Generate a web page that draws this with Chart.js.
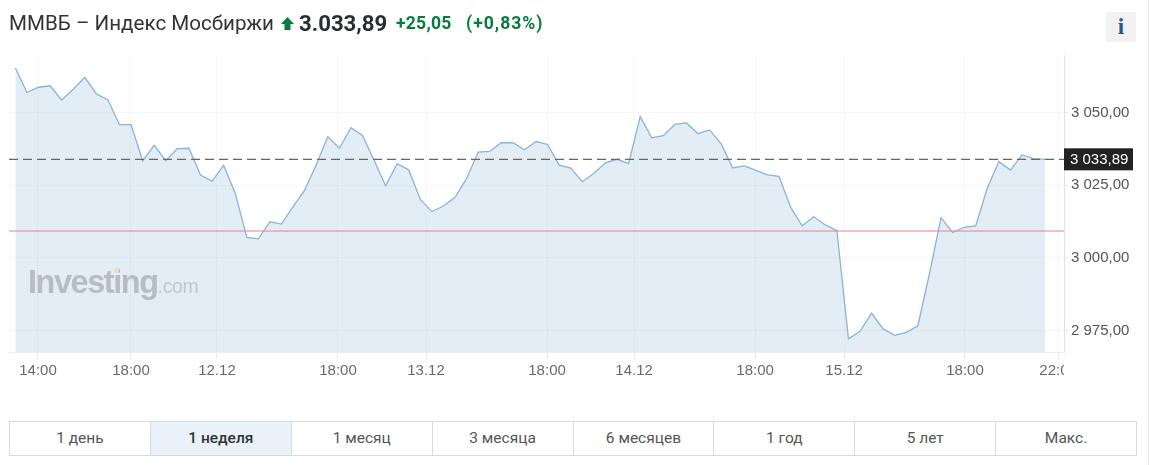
<!DOCTYPE html>
<html lang="ru">
<head>
<meta charset="utf-8">
<title>ММВБ – Индекс Мосбиржи</title>
<script src="https://cdn.jsdelivr.net/npm/chart.js@4"></script>
<style>
  html,body{margin:0;padding:0;background:#fff;overflow:hidden}
  body{width:1151px;height:465px;position:relative;font-family:Roboto,sans-serif;color:#333}
  #edge{position:absolute;left:1148px;top:0;width:1px;height:465px;background:#f0f0f0}
  #chart{position:absolute;left:0;top:0}
  #head{position:absolute;left:9px;top:10px;font-size:20.6px;line-height:26px;white-space:nowrap;display:flex;align-items:center}
  #name{color:#333;width:265px}
  #price{position:absolute;left:290px;top:0;font-weight:700;color:#2a2e33;font-size:22.2px}
  .chg{position:absolute;top:0;font-weight:700;color:#0a7b3e;font-size:17.6px;letter-spacing:.2px}
  #info{position:absolute;left:1106px;top:12px;width:30px;height:30px;background:#f1f1f1;color:#1f5a96;
    font:700 23px/30px "Liberation Serif",serif;text-align:center}
  #mark{position:absolute;left:28px;top:262px;white-space:nowrap;color:#b6bdc5;font-family:"Liberation Sans",sans-serif;line-height:40px}
  #mark b{font-size:32.4px;letter-spacing:-1.4px;font-weight:700}
  #mark span{font-size:19.4px;font-weight:400;color:#c0c7cd;letter-spacing:-.3px}
  #dot{position:absolute;left:114px;top:268px;width:5px;height:5px;border-radius:50%;background:#ecdcc0}
  #tabs{position:absolute;left:9px;top:421px;width:1128px;height:35px;box-sizing:border-box;display:flex;border:1px solid #d7dadd}
  #tabs div{flex:1;text-align:center;font-size:15.5px;line-height:33px;color:#555;border-left:1px solid #d7dadd}
  #tabs div:first-child{border-left:0}
  #tabs div.on{background:#e9f2f9;color:#333;font-weight:500}
</style>
</head>
<body>
<div id="edge"></div>
<canvas id="chart" width="1151" height="400"></canvas>
<div id="mark"><b>Investing</b><span>.com</span></div>
<div id="dot"></div>
<div id="head">
  <span id="name">ММВБ – Индекс Мосбиржи</span>
  <svg style="position:absolute;left:272px;top:7px" width="13" height="13" viewBox="0 0 13 13"><path d="M6.5 0L13 7H9.5V13H3.5V7H0Z" fill="#0a7b3e"/></svg>
  <span id="price">3.033,89</span>
  <span class="chg" style="left:387px">+25,05</span>
  <span class="chg" style="left:457px;letter-spacing:1px">(+0,83%)</span>
</div>
<div id="info">i</div>
<div id="tabs">
  <div>1 день</div><div class="on">1 неделя</div><div>1 месяц</div><div>3 месяца</div>
  <div>6 месяцев</div><div>1 год</div><div>5 лет</div><div>Макс.</div>
</div>
<script>
const closes = [3065.3,3056.9,3058.7,3059.2,3054.3,3058.0,3062.1,3056.4,3054.3,3045.8,
  3045.8,3033.4,3038.7,3033.4,3037.6,3037.7,3028.5,3026.4,3031.8,3022.2,
  3007.0,3006.5,3012.4,3011.6,3017.6,3023.3,3031.9,3041.7,3037.7,3044.8,
  3042.1,3033.6,3024.8,3032.4,3030.2,3020.1,3015.9,3017.8,3020.8,3027.3,
  3036.4,3036.6,3039.6,3039.6,3037.2,3040.0,3039.0,3031.9,3030.9,3026.2,
  3029.1,3032.7,3033.9,3032.4,3048.6,3041.3,3042.0,3045.9,3046.4,3042.7,
  3044.0,3039.2,3030.9,3031.6,3030.1,3028.5,3028.0,3017.4,3011.0,3014.1,
  3011.3,3009.3,2972.1,2974.7,2980.9,2975.5,2973.3,2974.3,2976.6,2994.5,
  3013.8,3008.7,3010.5,3011.0,3023.9,3033.1,3030.2,3035.4,3034.1,3033.89];
const xTickPos = [1.95,9.99,17.42,27.88,35.49,45.95,53.47,63.93,71.62,82.07,90.12];
const xTickLabels = ['14:00','18:00','12.12','18:00','13.12','18:00','14.12','18:00','15.12','18:00','22:00'];
const yTicks = [2975,3000,3025,3050];
const lastPrice = 3033.89;
const prevClose = 3009.21;
const lastLabel = '3 033,89';
const xMin = -0.553, xMax = 90.63, yMin = 2967.56, yMax = 3069.8;

const fmtY = v => String(v).replace(/(\d)(\d{3})$/, '$1 $2') + ',00';

// price tag on the axis, and the cut-off of the last time label
const overlay = {
  id: 'overlay',
  afterDraw(chart){
    const {ctx, chartArea, scales} = chart;
    const y = scales.y.getPixelForValue(lastPrice);
    ctx.save();
    ctx.fillStyle = '#fff';
    ctx.fillRect(chartArea.right, chartArea.bottom + 8, 40, 30);
    ctx.fillStyle = '#222';
    ctx.fillRect(chartArea.right, y - 11, 69, 22);
    ctx.fillStyle = '#fff';
    ctx.font = '15px "Liberation Sans"';
    ctx.textBaseline = 'middle';
    ctx.fillText(lastLabel, chartArea.right + 6, y + 1);
    ctx.restore();
  }
};

new Chart(document.getElementById('chart').getContext('2d'), {
  type: 'line',
  data: {
    datasets: [
      {data: closes.map((v,i)=>({x:i,y:v})), borderColor:'#8cb4d2', borderWidth:1.3, pointRadius:0, tension:0,
       fill:'start', backgroundColor:'rgba(99,155,199,.18)', order:3},
      {data: [{x:xMin,y:prevClose},{x:xMax,y:prevClose}], borderColor:'#e8808c', borderWidth:1, pointRadius:0, fill:false, order:2},
      {data: [{x:xMin,y:lastPrice},{x:xMax,y:lastPrice}], borderColor:'#666', borderWidth:1.2, borderDash:[9,5], pointRadius:0, fill:false, order:1}
    ]
  },
  options: {
    responsive: false,
    animation: false,
    layout: {padding:{left:9, top:55, right:0, bottom:0}},
    plugins: {legend:{display:false}, tooltip:{enabled:false}},
    scales: {
      x: {
        type:'linear', min:xMin, max:xMax,
        afterBuildTicks: s => { s.ticks = xTickPos.map(v=>({value:v})); },
        afterFit: s => { s.height = 48; },
        grid: {color:'#f7f7f7', tickLength:6, tickColor:'#e6e6e6'},
        border: {color:'#eeeeee'},
        ticks: {
          maxRotation:0, autoSkip:false, padding:4, color:'#6a6a6a',
          font:{family:'"Liberation Sans"', size:15},
          callback: (v,i) => xTickLabels[i]
        }
      },
      y: {
        position:'right', min:yMin, max:yMax,
        afterBuildTicks: s => { s.ticks = yTicks.map(v=>({value:v})); },
        afterFit: s => { s.width = 87; },
        grid: {color:'#f7f7f7', tickLength:4, tickColor:'#e6e6e6'},
        border: {color:'#e2e2e2'},
        ticks: {
          padding:3, color:'#555',
          font:{family:'"Liberation Sans"', size:15},
          callback: v => fmtY(v)
        }
      }
    }
  },
  plugins: [overlay]
});
</script>
</body>
</html>
